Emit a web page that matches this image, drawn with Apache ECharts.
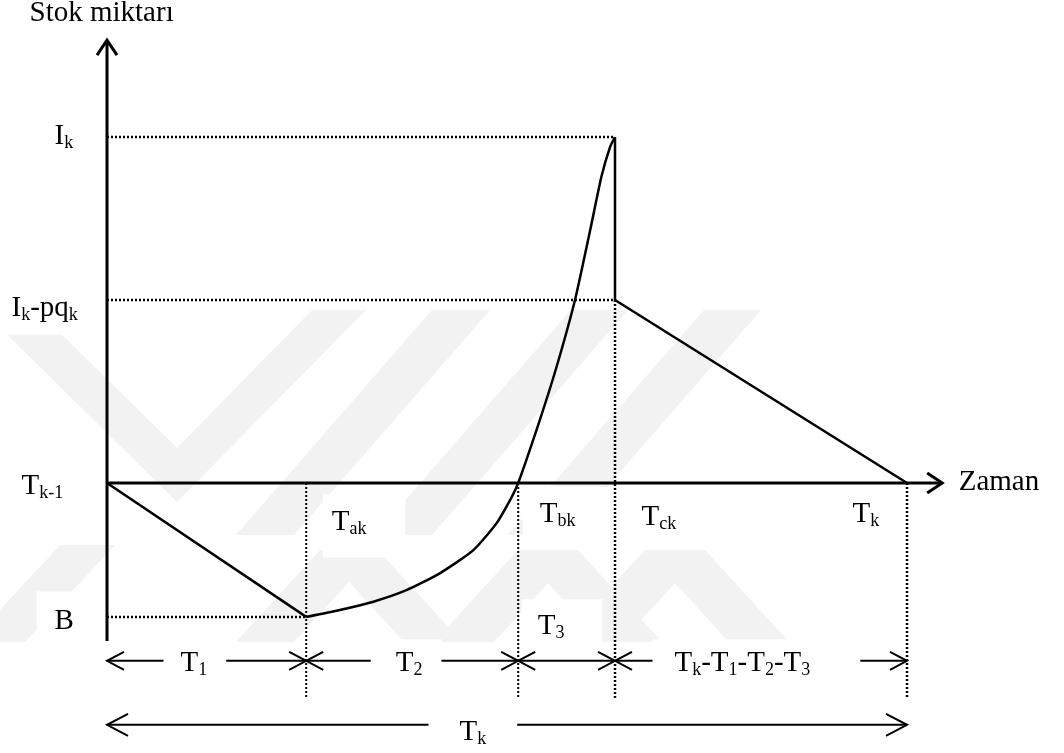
<!DOCTYPE html>
<html>
<head>
<meta charset="utf-8">
<script src="https://cdn.jsdelivr.net/npm/echarts@6/dist/echarts.min.js"></script>
<style>
  html, body { margin: 0; padding: 0; background: #fff; }
  #chart { width: 1064px; height: 753px; }
</style>
</head>
<body>
<div id="chart"></div>
<script>
// Stock level over one production/consumption cycle.
// Time is scaled so that T_k = 100, stock so that I_k = 100.
const eventNames  = ['T_{k-1}', 'T_{ak}', 'T_{bk}', 'T_{ck}', 'T_k'];
const eventTimes  = [0, 24.9, 51.4, 63.5, 100];
const levelNames  = ['I_k', 'I_k-pq_k', 'B'];
const levelValues = [100, 52.9, -38.7];
const periodNames = ['T_1', 'T_2', 'T_3', 'T_k-T_1-T_2-T_3'];
const cycleName   = 'T_k';
const axisNames   = ['Stok miktarı', 'Zaman'];
// production phase: stock climbs from the backlog B up to I_k
const productionCurve = [
  [24.9, -38.7], [29.1, -36.7], [33.3, -34.3], [37.5, -30.9], [41.6, -26.1],
  [45.8, -19.4], [48.7, -11.6], [50.6, -4.0], [51.4, 0], [54.1, 18.2],
  [56.2, 33.6], [58.5, 52.9], [60.4, 73.1], [61.8, 88.5], [62.9, 97.2], [63.5, 100]
];

// ---- drawing frame -------------------------------------------------------
const frame  = { ox: 107, oy: 483, kx: 8, ky: 3.46, w: 1064, h: 753 };
const layout = { axisTop: 128, axisBottom: -45.7, axisEnd: 104.4,
                 guideBottom: -62.1, periodRow: -51.4, cycleRow: -69.9 };
const FONT = "'Liberation Serif', 'Times New Roman', serif";

const [tPrev, tA, tB, tC, tK] = eventTimes;
const [Ik, IkPq, B] = levelValues;

// "T_{ak}" -> rich text with subscripts
function toRich(s) {
  const re = /_(\{([^}]*)\}|(.))/g;
  let out = '', last = 0, m;
  while ((m = re.exec(s))) {
    if (m.index > last) out += '{m|' + s.slice(last, m.index) + '}';
    out += '{s|' + (m[2] !== undefined ? m[2] : m[3]) + '}';
    last = re.lastIndex;
  }
  if (last < s.length) out += '{m|' + s.slice(last) + '}';
  return out;
}

const richStyles = {
  m: { fontFamily: FONT, fontSize: 29, lineHeight: 32, color: '#000' },
  s: { fontFamily: FONT, fontSize: 18, lineHeight: 18, color: '#000', verticalAlign: 'bottom' }
};

function solid(data, width, extra) {
  return Object.assign({
    type: 'line', data, symbol: 'none', silent: true, z: 4,
    lineStyle: { color: '#000', width: width, cap: 'butt', join: 'miter' }
  }, extra || {});
}
function dotted(data, width) {
  return {
    type: 'line', data, symbol: 'none', silent: true, z: 3,
    lineStyle: { color: '#000', width: width, type: [2, 2], cap: 'butt' }
  };
}

// ---- arrow heads (open chevrons) ----------------------------------------
// dir: 0 = right, 1 = up, 2 = left ; kind: 0 axis, 1 period row, 2 cycle row
const arrowSizes = [[15, 10, 3], [17, 9, 2], [21, 11, 2]];
const arrowData = [
  [0, layout.axisTop, 1, 0],
  [layout.axisEnd, 0, 0, 0]
];
for (let i = 0; i < eventTimes.length - 1; i++) {
  arrowData.push([eventTimes[i], layout.periodRow, 2, 1]);
  arrowData.push([eventTimes[i + 1], layout.periodRow, 0, 1]);
}
arrowData.push([tPrev, layout.cycleRow, 2, 2]);
arrowData.push([tK, layout.cycleRow, 0, 2]);

// ---- dimension lines -----------------------------------------------------
const dimSeries = [];
for (let i = 0; i < eventTimes.length - 1; i++) {
  dimSeries.push(solid([[eventTimes[i], layout.periodRow], [eventTimes[i + 1], layout.periodRow]], 2, { z: 3 }));
}
dimSeries.push(solid([[tPrev, layout.cycleRow], [tK, layout.cycleRow]], 2, { z: 3 }));

// ---- text labels ---------------------------------------------------------
const labelSpecs = [
  { text: axisNames[0],   at: [0, layout.axisTop],        dx: -77, dy: -26 },
  { text: levelNames[0],  at: [0, Ik],                    dx: -52, dy: 0,  pad: [6, 8, 6, 8] },
  { text: levelNames[1],  at: [0, IkPq],                  dx: -95, dy: 9,  pad: [10, 14, 10, 12] },
  { text: eventNames[0],  at: [tPrev, 0],                 dx: -85, dy: 4,  pad: [16, 32, 7, 14] },
  { text: levelNames[2],  at: [0, B],                     dx: -52, dy: 5,  pad: [14, 20, 10, 18] },
  { text: eventNames[1],  at: [tA, 0],                    dx: 26,  dy: 40, pad: [12, 39, 19, 9] },
  { text: eventNames[2],  at: [tB, 0],                    dx: 22,  dy: 32, pad: [12, 30, 9, 17] },
  { text: eventNames[3],  at: [tC, 0],                    dx: 27,  dy: 35, pad: [15, 23, 16, 22] },
  { text: eventNames[4],  at: [tK, 0],                    dx: -54, dy: 32, pad: [10, 12, 10, 12] },
  { text: periodNames[2], at: [tB, layout.periodRow],     dx: 20,  dy: -34, pad: [11, 38, 3, 16] },
  { text: periodNames[0], at: [tPrev, layout.periodRow],  dx: 74,  dy: 3,  pad: [8, 19, 8, 17] },
  { text: periodNames[1], at: [tA, layout.periodRow],     dx: 90,  dy: 3,  pad: [8, 19, 8, 25] },
  { text: periodNames[3], at: [tC, layout.periodRow],     dx: 60,  dy: 3,  pad: [8, 50, 8, 22] },
  { text: cycleName,      at: [tPrev, layout.cycleRow],   dx: 353, dy: 8,  pad: [6, 31, 6, 31] },
  { text: axisNames[1],   at: [layout.axisEnd, 0],        dx: 17,  dy: 0 }
];
const labelData = labelSpecs.map(function (sp) {
  const pad = sp.pad || [0, 0, 0, 0];
  return {
    value: sp.at,
    label: {
      show: true,
      opacity: 1,
      formatter: toRich(sp.text),
      rich: richStyles,
      align: 'left',
      verticalAlign: 'middle',
      position: [sp.dx - pad[3], sp.dy + (pad[2] - pad[0]) / 2],
      padding: pad,
      backgroundColor: sp.pad ? '#ffffff' : 'transparent'
    }
  };
});

// ---- faint background pattern -------------------------------------------
const backdropShapes = [
  [[-18, 310], [37, 310], [177, 448], [312, 310], [366, 310], [177, 502]],
  [[432, 310], [490, 310], [294, 535], [236, 535]],
  [[571, 310], [628, 310], [432, 535], [375, 535]],
  [[704, 310], [761, 310], [565, 535], [508, 535]],
  [[60, 545], [115, 545], [25, 642], [-30, 642]],
  [[236, 642], [320, 550], [378, 550], [462, 642], [404, 642], [349, 582], [294, 642]],
  [[434, 642], [518, 550], [578, 550], [662, 642], [602, 642], [548, 583], [494, 642]],
  [[561, 642], [645, 550], [705, 550], [789, 642], [729, 642], [675, 583], [621, 642]]
];

const option = {
  backgroundColor: '#fff',
  animation: false,
  grid: { left: 0, right: 0, top: 0, bottom: 0, containLabel: false },
  xAxis: { type: 'value', show: false,
           min: -frame.ox / frame.kx, max: (frame.w - frame.ox) / frame.kx },
  yAxis: { type: 'value', show: false,
           min: -(frame.h - frame.oy) / frame.ky, max: frame.oy / frame.ky },
  graphic: {
    elements: backdropShapes.map(function (pts) {
      return { type: 'polygon', shape: { points: pts }, style: { fill: '#f2f2f2' }, z: -10, silent: true };
    })
  },
  series: [
    // axes
    solid([[0, layout.axisBottom], [0, layout.axisTop]], 3, { z: 5 }),
    solid([[0, 0], [layout.axisEnd, 0]], 3, { z: 5 }),
    // guide lines
    dotted([[0, Ik], [tC, Ik]], 2.5),
    dotted([[0, IkPq], [tC, IkPq]], 2.5),
    dotted([[0, B], [tA, B]], 2.5),
    dotted([[tA, 0], [tA, layout.guideBottom]], 2),
    dotted([[tB, 0], [tB, layout.guideBottom]], 2),
    dotted([[tC, IkPq], [tC, layout.guideBottom]], 2.5),
    dotted([[tK, 0], [tK, layout.guideBottom]], 2.5),
    // stock path
    solid([[tPrev, 0], [tA, B]], 2.5),
    solid(productionCurve, 2.5, { smooth: 0.2 }),
    solid([[tC, Ik], [tC, IkPq]], 2.5),
    solid([[tC, IkPq], [tK, 0]], 2.5)
  ].concat(dimSeries, [
    {
      type: 'custom', silent: true, z: 6,
      data: arrowData,
      renderItem: function (params, api) {
        const p = api.coord([api.value(0), api.value(1)]);
        const dir = api.value(2);
        const sz = arrowSizes[api.value(3)];
        const back = sz[0], half = sz[1];
        let pts;
        if (dir === 0) pts = [[p[0] - back, p[1] - half], [p[0], p[1]], [p[0] - back, p[1] + half]];
        else if (dir === 2) pts = [[p[0] + back, p[1] - half], [p[0], p[1]], [p[0] + back, p[1] + half]];
        else pts = [[p[0] - half, p[1] + back], [p[0], p[1]], [p[0] + half, p[1] + back]];
        return { type: 'polyline', shape: { points: pts },
                 style: { stroke: '#000', lineWidth: sz[2], fill: null, lineJoin: 'miter' } };
      }
    },
    {
      type: 'scatter', silent: true, z: 8,
      symbolSize: 1,
      itemStyle: { color: 'rgba(0,0,0,0)', opacity: 1 },
      data: labelData
    }
  ])
};

const chart = echarts.init(document.getElementById('chart'), null, { renderer: 'canvas' });
chart.setOption(option);
</script>
</body>
</html>
